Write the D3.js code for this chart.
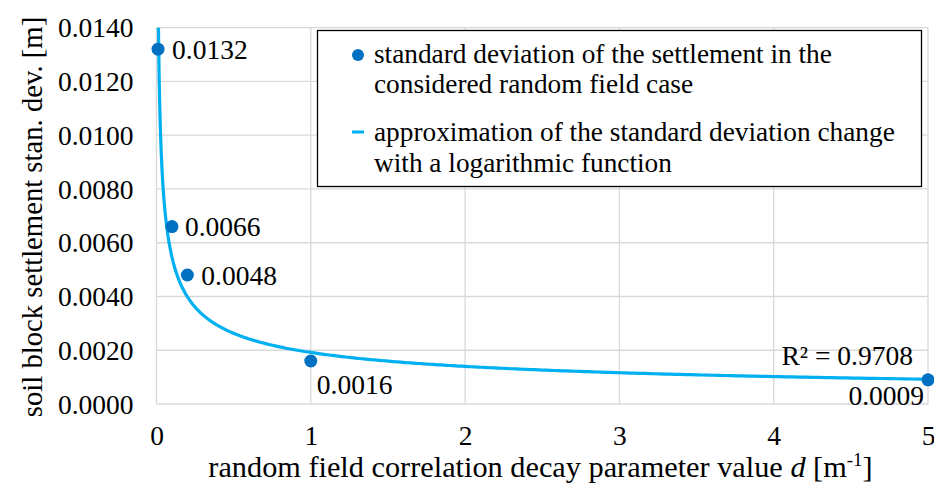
<!DOCTYPE html>
<html><head><meta charset="utf-8">
<script src="https://cdn.jsdelivr.net/npm/d3@7"></script>
<style>body{margin:0;background:#fff}svg text{font-family:"Liberation Serif","Times New Roman",serif !important;fill:#000}</style>
</head><body><svg id="c" width="934" height="484"></svg>
<script>
const dValues = [0.01, 0.1, 0.2, 1, 5];
const stdDev = [0.0132, 0.0066, 0.0048, 0.0016, 0.0009];
const pointLabels = ["0.0132", "0.0066", "0.0048", "0.0016", "0.0009"];
const xTicks = [0, 1, 2, 3, 4, 5];
const yTicks = [0, 0.002, 0.004, 0.006, 0.008, 0.010, 0.012, 0.014];
const r2Label = "R² = 0.9708";
const legendItems = [
  ["standard deviation of the settlement in the", "considered random field case"],
  ["approximation of the standard deviation change", "with a logarithmic function"]
];

const FONT = "Liberation Serif";
const svg = d3.select("#c");
const L = 156.5, R = 928, T = 27.7, B = 404;
const x = d3.scaleLinear().domain([0, 5]).range([L, R]);
const y = d3.scaleLinear().domain([0, 0.014]).range([B, T]);
const FS = 27.5;

// gridlines
svg.append("g").selectAll("line").data(yTicks).join("line")
  .attr("x1", L).attr("x2", R).attr("y1", d => y(d)).attr("y2", d => y(d))
  .attr("stroke", "#d9d9d9").attr("stroke-width", 1.3);
svg.append("g").selectAll("line").data(xTicks).join("line")
  .attr("y1", T).attr("y2", B).attr("x1", d => x(d)).attr("x2", d => x(d))
  .attr("stroke", "#d9d9d9").attr("stroke-width", 1.3);

// axes tick labels via d3 axes
const yAxis = svg.append("g").attr("transform", `translate(${L},0)`)
  .call(d3.axisLeft(y).tickValues(yTicks).tickFormat(d3.format(".4f")).tickSize(0).tickPadding(23));
yAxis.attr("font-family", FONT);
yAxis.select(".domain").remove();
yAxis.selectAll("text").attr("font-family", FONT).style("font-size", FS + "px").attr("dy", "0.33em");
const xAxis = svg.append("g").attr("transform", `translate(0,${B})`)
  .call(d3.axisBottom(x).tickValues(xTicks).tickFormat(d3.format("d")).tickSize(0).tickPadding(21));
xAxis.attr("font-family", FONT);
xAxis.select(".domain").remove();
xAxis.selectAll("text").attr("font-family", FONT).style("font-size", FS + "px");

// power-law least-squares trendline computed from data
const lx = dValues.map(Math.log), ly = stdDev.map(Math.log);
const mx = d3.mean(lx), my = d3.mean(ly);
const slope = d3.sum(lx.map((v, i) => (v - mx) * (ly[i] - my))) / d3.sum(lx.map(v => (v - mx) ** 2));
const icpt = Math.exp(my - slope * mx);
const fit = d => icpt * Math.pow(d, slope);
const xs = d3.range(0, 701).map(i => 0.004 * Math.pow(5 / 0.004, i / 700));
svg.append("clipPath").attr("id", "clip").append("rect").attr("x", L - 5).attr("y", T).attr("width", R - L + 10).attr("height", B - T);
svg.append("path").datum(xs).attr("clip-path", "url(#clip)")
  .attr("d", d3.line().x(d => x(d)).y(d => y(fit(d))))
  .attr("fill", "none").attr("stroke", "#00b0f0").attr("stroke-width", 3.2);

// points
svg.append("g").selectAll("circle").data(dValues).join("circle")
  .attr("cx", d => x(d)).attr("cy", (d, i) => y(stdDev[i])).attr("r", 6.5).attr("fill", "#0070c0");

// point labels
const lblPos = [[14, 10, "start"], [13, 9, "start"], [14, 10, "start"], [6, 33, "start"], [-4, 25, "end"]];
svg.append("g").selectAll("text").data(dValues).join("text")
  .attr("font-family", FONT)
  .attr("x", (d, i) => x(d) + lblPos[i][0]).attr("y", (d, i) => y(stdDev[i]) + lblPos[i][1])
  .attr("text-anchor", (d, i) => lblPos[i][2]).style("font-size", FS + "px").text((d, i) => pointLabels[i]);
svg.append("text").attr("font-family", FONT).attr("x", x(5) - 15).attr("y", y(0.0009) - 15).attr("text-anchor", "end")
  .style("font-size", FS + "px").text(r2Label);

// axis titles
svg.append("text").attr("font-family", FONT).attr("transform", `translate(42,217) rotate(-90)`).attr("text-anchor", "middle")
  .style("font-size", "28.7px").text("soil block settlement stan. dev. [m]");
const xt = svg.append("text").attr("font-family", FONT).attr("x", 540.5).attr("y", 477).attr("text-anchor", "middle").style("font-size", "30.3px");
xt.append("tspan").text("random field correlation decay parameter value ");
xt.append("tspan").attr("font-style", "italic").text("d");
xt.append("tspan").text(" [m");
xt.append("tspan").attr("dy", -11).style("font-size", "19px").text("-1");
xt.append("tspan").attr("dy", 11).text("]");

// legend
const lg = svg.append("g");
lg.append("rect").attr("x", 317.5).attr("y", 30.5).attr("width", 604).attr("height", 156)
  .attr("fill", "#fff").attr("stroke", "#000").attr("stroke-width", 1.3);
lg.append("circle").attr("cx", 358).attr("cy", 55).attr("r", 6).attr("fill", "#0070c0");
lg.append("line").attr("x1", 352).attr("x2", 364).attr("y1", 132).attr("y2", 132).attr("stroke", "#00b0f0").attr("stroke-width", 3);
const lgY = [[63, 93], [141, 172]];
legendItems.forEach((lines, i) => lines.forEach((t, j) =>
  lg.append("text").attr("font-family", FONT).attr("x", 374).attr("y", lgY[i][j]).style("font-size", "27.3px").text(t)));
</script></body></html>
